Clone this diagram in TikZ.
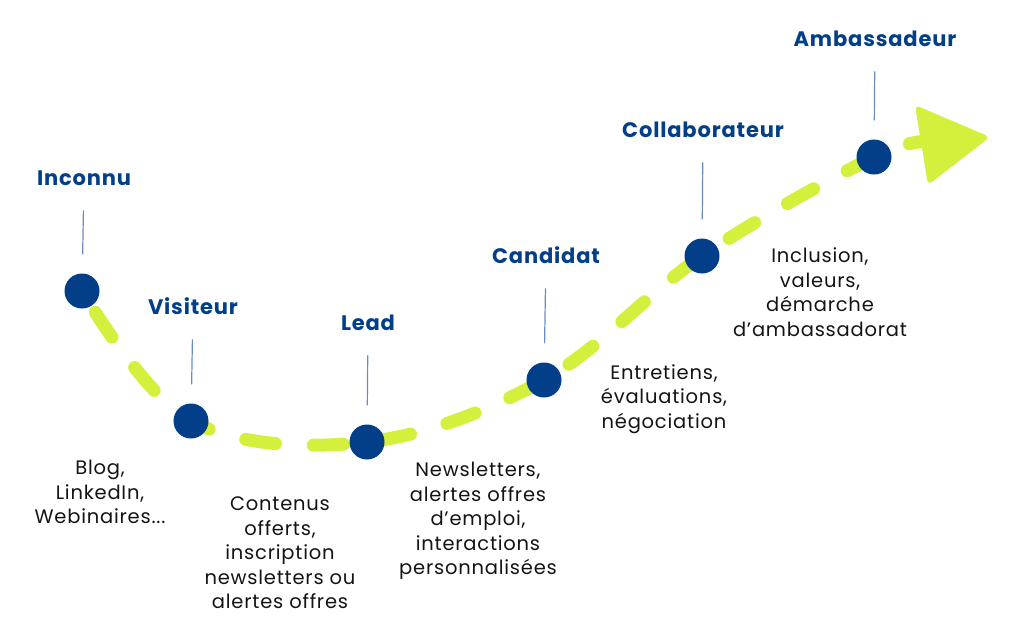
\documentclass[tikz,border=0pt]{standalone}
\usepackage{fontspec}
\setmainfont{Poppins}[LetterSpace=4]
\usepackage{tikz}
\usetikzlibrary{arrows,positioning}

\definecolor{navy}{HTML}{023F88}
\definecolor{lime}{HTML}{D4F03C}
\definecolor{rule}{HTML}{6B8CC3}
\definecolor{ink}{HTML}{141414}

\begin{document}
\begin{tikzpicture}[x=1pt,y=-1pt,
    dot/.style={circle,fill=navy,minimum size=35pt,inner sep=0pt},
    stage/.style={anchor=base,inner sep=0pt,text=navy,font=\fontsize{21}{24}\selectfont\bfseries},
    info/.style={align=center,inner sep=0pt,text=ink,font=\fontsize{19.5}{24.5}\selectfont},
    leader/.style={draw=rule,line width=1.2pt,shorten <=25pt,shorten >=19pt},
    trail/.style={draw=lime,line width=13pt,line cap=round,dash pattern=on 30pt off 38pt,dash phase=43pt}]
  \useasboundingbox (0,0) rectangle (1013,643);

  % the path
  \coordinate (head) at (935,141);
  \draw[trail] plot[smooth,tension=0.6] coordinates {(82,291) (191,421) (367,442) (544,380) (702,256) (874,157) (head)};
  \fill[lime,rounded corners=5pt] (915,105) -- (990,137) -- (928,185) -- cycle;

  % stages
  \node[dot] (inconnu dot) at (82,291) {};
  \node[dot] (visiteur dot) at (191,421) {};
  \node[dot] (lead dot) at (367,442) {};
  \node[dot] (candidat dot) at (544,380) {};
  \node[dot] (collab dot) at (702,256) {};
  \node[dot] (ambass dot) at (874,157) {};

  \node[stage] (inconnu) at (84,185) {Inconnu};
  \node[stage] (visiteur) at (193,314) {Visiteur};
  \node[stage] (lead) at (368,330) {Lead};
  \node[stage] (candidat) at (546,263) {Candidat};
  \node[stage] (collab) at (703,137) {Collaborateur};
  \node[stage] (ambass) at (875,46) {Ambassadeur};

  \path (inconnu) edge[leader] (inconnu dot)
        (visiteur) edge[leader] (visiteur dot)
        (lead) edge[leader] (lead dot)
        (candidat) edge[leader] (candidat dot)
        (collab) edge[leader] (collab dot)
        (ambass) edge[leader] (ambass dot);

  % what happens at each stage
  \node[info] (blog) at (100,492) {Blog,\\LinkedIn,\\Webinaires...};
  \node[info] (contenus) at (280,553) {Contenus\\offerts,\\inscription\\newsletters ou\\alertes offres};
  \node[info] (news) at (478,521) {Newsletters,\\alertes offres\\d’emploi,\\interactions\\personnalisées};
  \node[info] (entretiens) at (664,399) {Entretiens,\\évaluations,\\négociation};
  \node[info] (inclusion) at (820,292) {Inclusion,\\valeurs,\\démarche\\d’ambassadorat};
\end{tikzpicture}
\end{document}
